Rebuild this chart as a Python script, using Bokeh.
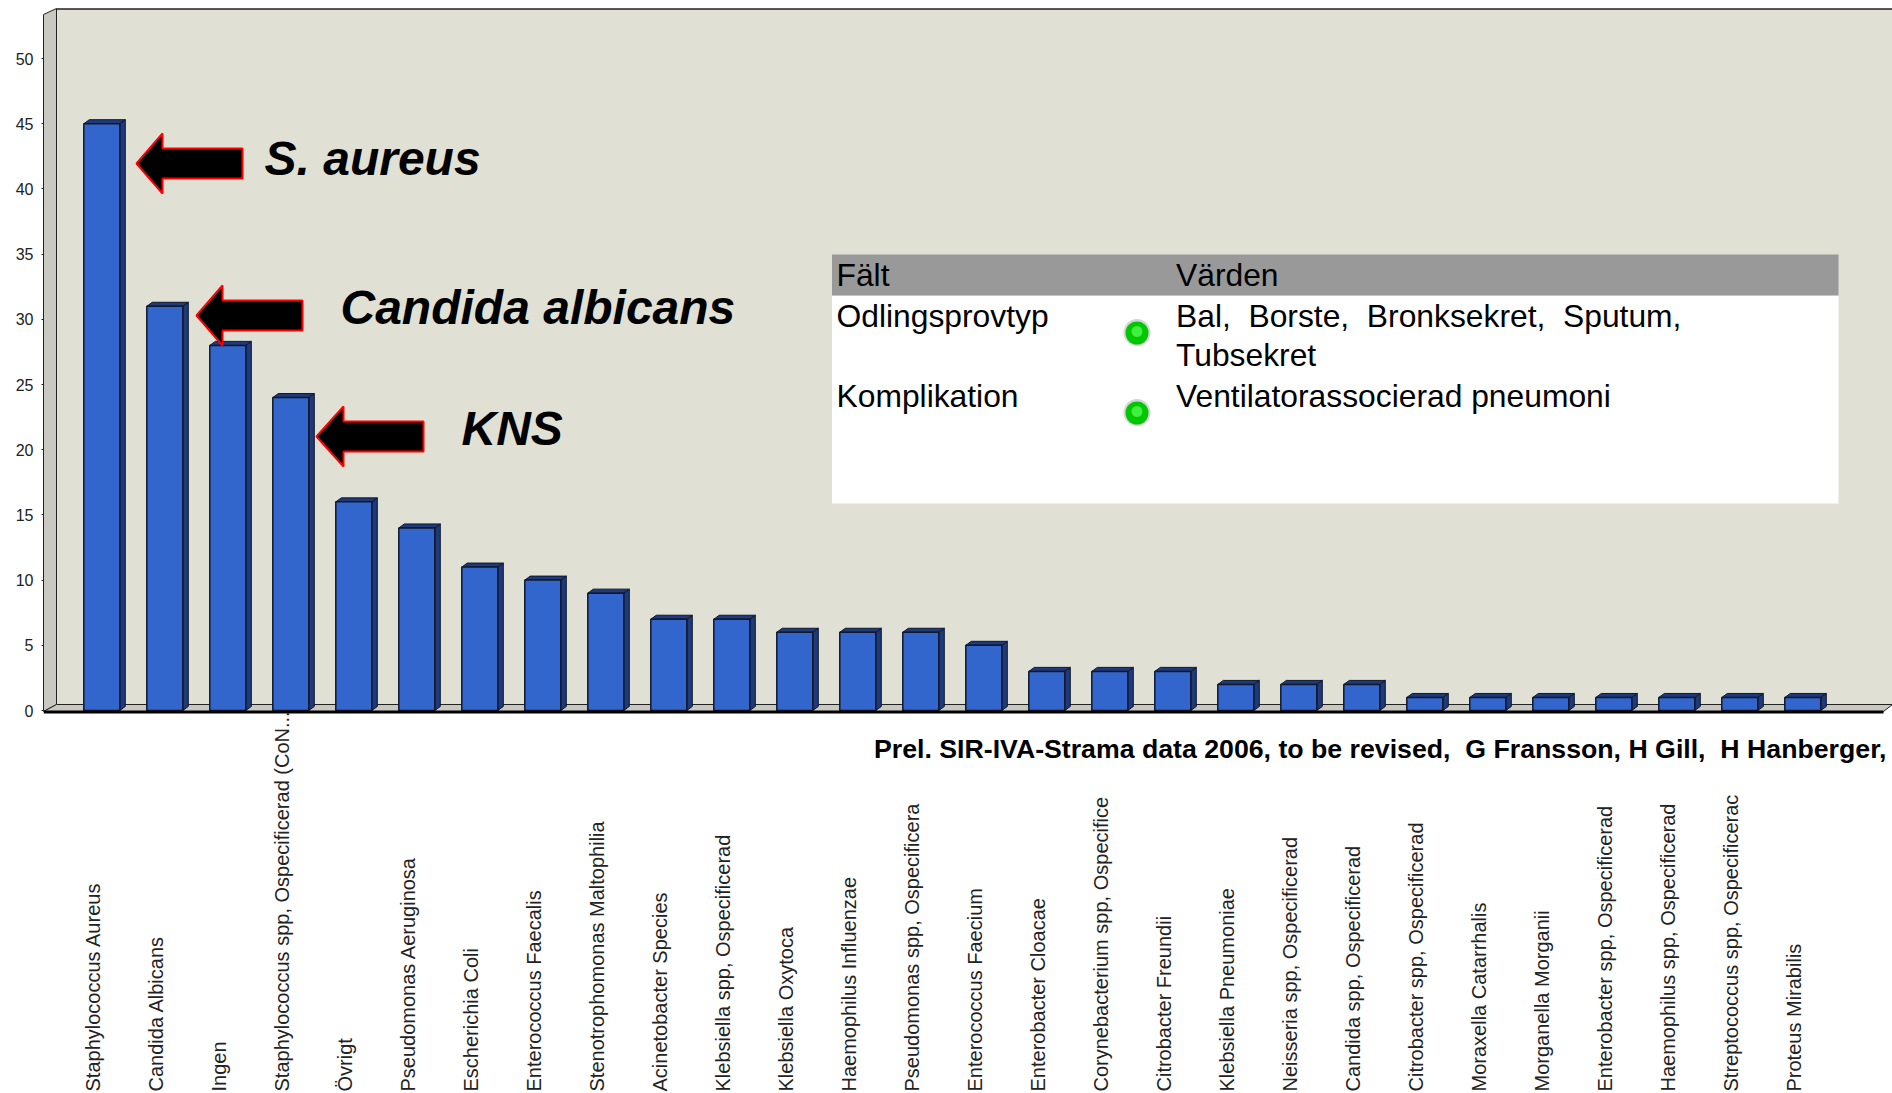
import math
from bokeh.plotting import figure
from bokeh.models import Range1d, FixedTicker
from bokeh.core.properties import value
from bokeh.embed import file_html
from bokeh.resources import INLINE

categories = [
    "Staphylococcus Aureus", "Candida Albicans", "Ingen",
    "Staphylococcus spp, Ospecificerad (CoN...", "Övrigt", "Pseudomonas Aeruginosa",
    "Escherichia Coli", "Enterococcus Faecalis", "Stenotrophomonas Maltophilia",
    "Acinetobacter Species", "Klebsiella spp, Ospecificerad", "Klebsiella Oxytoca",
    "Haemophilus Influenzae", "Pseudomonas spp, Ospecificera", "Enterococcus Faecium",
    "Enterobacter Cloacae", "Corynebacterium spp, Ospecifice", "Citrobacter Freundii",
    "Klebsiella Pneumoniae", "Neisseria spp, Ospecificerad", "Candida spp, Ospecificerad",
    "Citrobacter spp, Ospecificerad", "Moraxella Catarrhalis", "Morganella Morganii",
    "Enterobacter spp, Ospecificerad", "Haemophilus spp, Ospecificerad",
    "Streptococcus spp, Ospecificerac", "Proteus Mirabilis",
]
counts = [45, 31, 28, 24, 16, 14, 11, 10, 9, 7, 7, 6, 6, 6, 5, 3, 3, 3, 2, 2, 2, 1, 1, 1, 1, 1, 1, 1]
y_ticks = [0, 5, 10, 15, 20, 25, 30, 35, 40, 45, 50]
note = "Prel. SIR-IVA-Strama data 2006, to be revised,\u00a0 G Fransson, H Gill,\u00a0 H Hanberger, "

STEP, X0, UNIT, Y0 = 63.0, 101.3, 13.04, 710.0
def dx(px): return (px - X0) / STEP
def dy(py): return (Y0 - py) / UNIT
BASE = 0.37  # baseline correction of the svg text, in em

W, H = 1892, 1093
p = figure(width=W, height=H, output_backend="svg", toolbar_location=None,
           x_range=Range1d(dx(43), dx(1892)), y_range=Range1d(dy(1093), dy(0)),
           min_border_left=43, min_border_right=0, min_border_top=0, min_border_bottom=0,
           x_axis_location=None, background_fill_color="white", border_fill_color="white")
p.outline_line_color = None
p.grid.visible = False

ax = p.yaxis[0]
ax.ticker = FixedTicker(ticks=y_ticks)
ax.bounds = (0, dy(14))
ax.axis_line_color = "#222222"
ax.major_tick_line_color = "#222222"
ax.major_tick_out = 2
ax.major_tick_in = 0
ax.minor_tick_line_color = None
ax.major_label_standoff = 8
ax.major_label_text_font = "Liberation Sans"
ax.major_label_text_font_size = "16px"
ax.major_label_text_color = "#222222"

# chart walls and floor
WALL = "#E0E0D4"; SIDE = "#C9C9C1"; EDGE = "#222222"
p.patch([dx(56), dx(1892), dx(1892), dx(56)], [dy(8.5), dy(8.5), dy(704), dy(704)],
        fill_color=WALL, line_color=None)
p.line([dx(56), dx(1892)], [dy(8.5)] * 2, line_color=EDGE, line_width=1.5)
p.patch([dx(43), dx(56), dx(56), dx(43)], [dy(14), dy(8), dy(704), dy(711)],
        fill_color=SIDE, line_color=EDGE, line_width=1)
p.patch([dx(43), dx(56), dx(1892), dx(1883)], [dy(711), dy(704), dy(704), dy(711)],
        fill_color=SIDE, line_color=EDGE, line_width=1)

# 3-D bars
hw = 18 / STEP
ddx, ddy = 5.5 / STEP, 4 / UNIT
xs = list(range(len(counts)))
BLUE, DARK, LINE = "#3366CC", "#1F3A7A", "#10182B"
p.patches([[i + hw, i + hw + ddx, i + hw + ddx, i + hw] for i in xs],
          [[0, ddy, v + ddy, v] for v in counts], fill_color=DARK, line_color=LINE, line_width=1)
p.patches([[i - hw, i - hw + ddx, i + hw + ddx, i + hw] for i in xs],
          [[v, v + ddy, v + ddy, v] for v in counts], fill_color=DARK, line_color=LINE, line_width=1)
p.vbar(x=xs, width=2 * hw, bottom=0, top=counts, fill_color=BLUE, line_color=LINE, line_width=1.5)
p.line([dx(43), dx(1883)], [dy(711.5)] * 2, line_color="black", line_width=3)

# category labels
LABEL_PX = 20
p.text(x=xs, y=[dy(1091)] * len(xs), text=categories, angle=math.pi / 2,
       x_offset=-1.3 - BASE * LABEL_PX,
       text_align="left", text_baseline="alphabetic", text_font=value("Liberation Sans"),
       text_font_size=f"{LABEL_PX}px", text_color="#222222")

# arrows
def arrow(tip, head, right, ymid, half_shaft, half_head):
    return ([dx(tip), dx(head), dx(head), dx(right), dx(right), dx(head), dx(head)],
            [dy(ymid), dy(ymid - half_head), dy(ymid - half_shaft), dy(ymid - half_shaft),
             dy(ymid + half_shaft), dy(ymid + half_shaft), dy(ymid + half_head)])
for a in [arrow(136, 162, 242, 163, 15, 30), arrow(196, 222, 302, 315, 15, 30), arrow(316, 343, 423, 436, 15, 30)]:
    p.patch(a[0], a[1], fill_color="black", line_color="#FF0000", line_width=2)

def label(t, px, py, size, style="normal"):
    p.text(x=[dx(px)], y=[dy(py - BASE * size)], text=[t], text_align="left", text_baseline="alphabetic",
           text_font=value("Liberation Sans"), text_font_style=style,
           text_font_size=f"{size}px", text_color="black")

for t, px, py in [("S. aureus", 264, 176), ("Candida albicans", 340, 325), ("KNS", 461, 446)]:
    label(t, px, py, 48, "bold italic")

# filter table
p.quad(left=[dx(831.5)], right=[dx(1838)], top=[dy(295)], bottom=[dy(503)], fill_color="white", line_color=None)
p.quad(left=[dx(831.5)], right=[dx(1838)], top=[dy(254)], bottom=[dy(295)], fill_color="#999999", line_color=None)
for t, px, py in [("Fält", 836, 286), ("Värden", 1175.5, 286), ("Odlingsprovtyp", 836, 327),
                  ("Bal,\u00a0 Borste,\u00a0 Bronksekret,\u00a0 Sputum,", 1175.5, 327), ("Tubsekret", 1175.5, 366),
                  ("Komplikation", 836, 407), ("Ventilatorassocierad pneumoni", 1175.5, 407)]:
    label(t, px, py, 31.8)
p.scatter(x=[dx(1136.5)] * 2, y=[dy(332), dy(412)], size=27, fill_color="#D4D4D4", line_color=None)
p.scatter(x=[dx(1136.5)] * 2, y=[dy(332.5), dy(412.5)], size=23, fill_color="#00C800", line_color=None)
p.scatter(x=[dx(1136.5)] * 2, y=[dy(331), dy(411)], size=11, fill_color="#40F040", line_color=None)

label(note, 873.5, 758.5, 26.7, "bold")

open("out.html", "w").write(file_html(p, INLINE))
